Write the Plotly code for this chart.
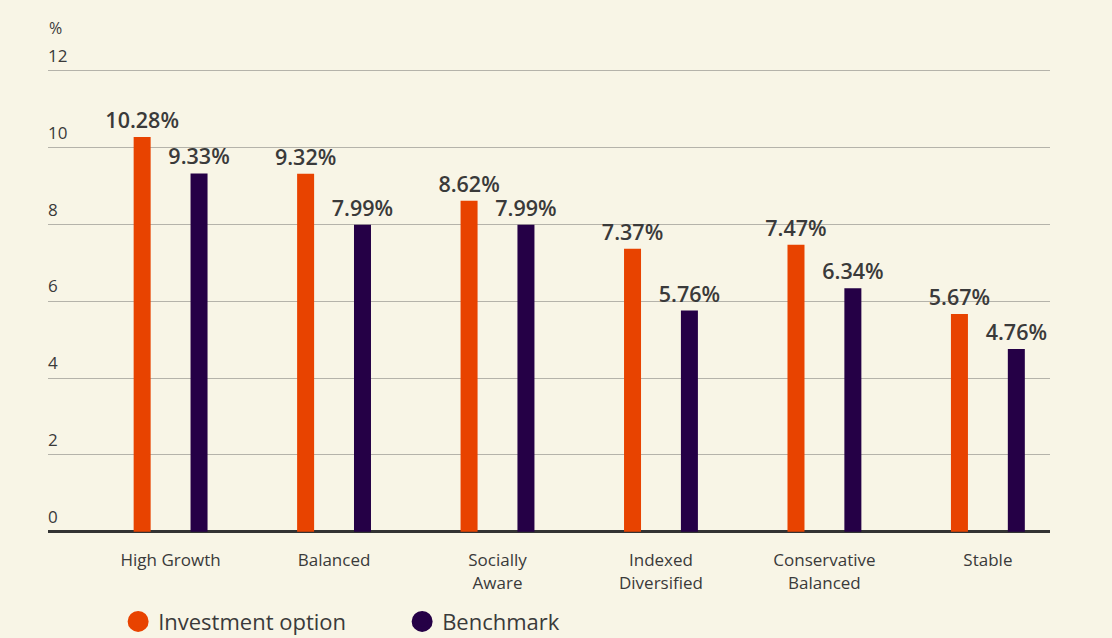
import plotly.graph_objects as go

categories = ["High Growth", "Balanced", "Socially<br>Aware", "Indexed<br>Diversified",
              "Conservative<br>Balanced", "Stable"]
investment = [10.28, 9.32, 8.62, 7.37, 7.47, 5.67]
benchmark = [9.33, 7.99, 7.99, 5.76, 6.34, 4.76]
y_ticks = [0, 2, 4, 6, 8, 10, 12]

ORANGE = "#e84300"
PURPLE = "#250046"
BG = "#f8f5e6"
TXT = "#3a3a3a"

Y_TOP = 12.7
Y_BOT = -0.06
UNIT = 38.4
top_margin = 71 - (Y_TOP - 12) * UNIT
bot_margin = 638 - (532 - Y_BOT * UNIT)

fig = go.Figure()
for vals, nm, col, off in [(investment, "Investment option", ORANGE, -0.226),
                           (benchmark, "Benchmark", PURPLE, 0.122)]:
    fig.add_trace(go.Bar(
        x=categories, y=vals, name=nm,
        marker=dict(color=col, line=dict(width=0)),
        width=0.104, offset=off,
        text=[f"{v:.2f}%" for v in vals], textposition="outside",
        constraintext="none",
        textfont=dict(size=21.5, color=TXT, family="Open Sans", weight=600),
        cliponaxis=False, showlegend=False,
    ))
# legend entries (circle markers)
for nm, col in [("Investment option", ORANGE), ("Benchmark", PURPLE)]:
    fig.add_trace(go.Scatter(
        x=[None], y=[None], mode="markers", name=nm,
        marker=dict(color=col, size=16, symbol="circle", line=dict(color=col, width=5)),
    ))

fig.update_layout(
    width=1112, height=638,
    paper_bgcolor=BG, plot_bgcolor=BG,
    margin=dict(l=48, r=62, t=top_margin, b=bot_margin, autoexpand=False),
    barmode="group",
    font=dict(family="Open Sans", color=TXT),
    legend=dict(orientation="h", x=0.07, xanchor="left", y=-0.136, yanchor="top",
                font=dict(size=22, color=TXT, family="Open Sans"),
                itemsizing="trace", bgcolor="rgba(0,0,0,0)", entrywidth=239),
    xaxis=dict(type="category", range=[-0.75, 5.38], showgrid=False,
               showline=False,
               ticks="outside", ticklen=11, tickcolor="rgba(0,0,0,0)",
               tickfont=dict(size=17, color=TXT, family="Open Sans"), fixedrange=True),
    yaxis=dict(range=[Y_BOT, Y_TOP], tickvals=y_ticks, ticktext=[str(t) for t in y_ticks],
               showgrid=True, gridcolor="#b5b3aa", gridwidth=1.3,
               zeroline=True, zerolinecolor="#333333", zerolinewidth=2.5,
               showline=False, ticklabelposition="inside top", ticklabelstandoff=-3,
               ticklabelshift=-3, ticklabeloverflow="allow",
               tickfont=dict(size=17, color=TXT, family="Open Sans"), fixedrange=True),
    annotations=[dict(text="%", xref="paper", yref="paper", x=0, y=1.0,
                      yshift=top_margin - 28, xshift=-1,
                      xanchor="left", yanchor="middle", showarrow=False,
                      font=dict(size=16, color=TXT, family="Open Sans"))],
)

fig.write_html("out.html", post_script="document.body.style.margin='0';",
               config={"displayModeBar": False})
